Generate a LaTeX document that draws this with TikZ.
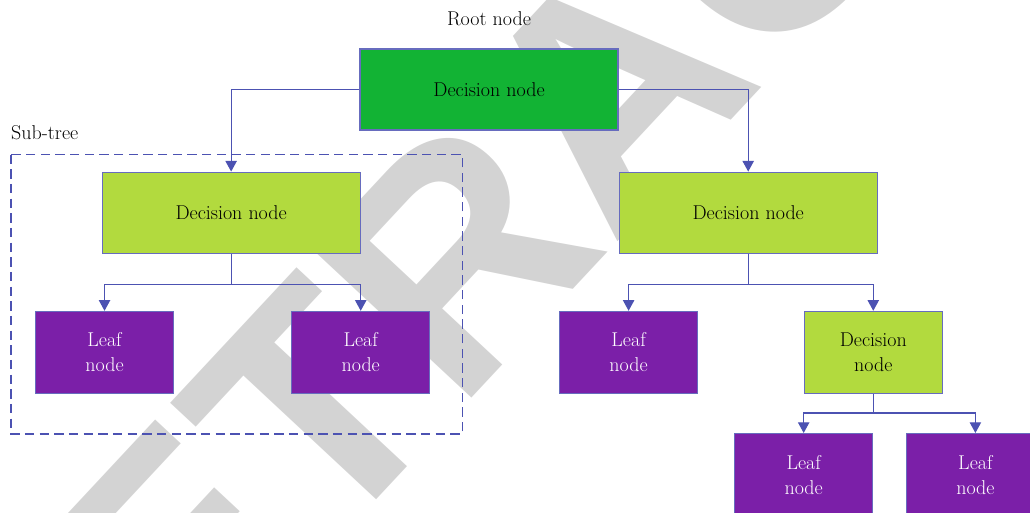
\documentclass[tikz,border=0pt]{standalone}
\usepackage{fontspec}
\newfontfamily\wmfont{Liberation Sans}
\usepackage{tikz}
\usetikzlibrary{positioning,arrows.meta,calc}

\definecolor{rootgreen}{RGB}{18,179,52}
\definecolor{decgreen}{RGB}{178,218,62}
\definecolor{leafpurple}{RGB}{123,31,168}
\definecolor{linkblue}{RGB}{76,82,178}
\definecolor{wmgray}{RGB}{211,211,211}

\begin{document}
\begin{tikzpicture}[
  every node/.style={font=\fontsize{15}{18.75}\selectfont},
  box/.style={draw=linkblue!85, line width=0.9pt, align=center, inner sep=2pt},
  root/.style={box, fill=rootgreen, minimum width=193.5pt, minimum height=60.75pt},
  dec/.style={box, fill=decgreen, minimum width=193.5pt, minimum height=60.75pt},
  smalldec/.style={box, fill=decgreen, minimum width=103.5pt, minimum height=61.5pt},
  leaf/.style={box, fill=leafpurple, text=white, minimum width=103.5pt, minimum height=61.5pt},
  lbl/.style={inner sep=0pt},
  link/.style={draw=linkblue, line width=0.9pt},
  arrow/.style={link, -{Triangle[length=8pt,width=8.5pt]}},
  subtree/.style={draw=linkblue, line width=0.9pt, dash pattern=on 7pt off 4pt}
]
\useasboundingbox (0,0) rectangle (772.5pt,-384.75pt);
\clip (0,0) rectangle (772.5pt,-384.75pt);

% watermark behind everything
\node[text=wmgray, rotate=47, inner sep=0pt, font=\wmfont\bfseries\fontsize{236}{236}\selectfont] (stamp) at (458pt,-67.5pt) {RETRACTED};

\node[root] (root) at (366.75pt,-67.125pt) {Decision node};
\node[lbl, above=17pt of root] (rootlbl) {Root node};

\node[dec, below left=30.75pt and 0pt of root, xshift=1pt] (decL) {Decision node};
\node[dec, below right=30.75pt and 0pt of root] (decR) {Decision node};

\node[leaf, below=42.75pt of decL.south west, xshift=2.25pt] (leafA) {Leaf\\node};
\node[leaf, below=42.75pt of decL.south east] (leafB) {Leaf\\node};
\node[leaf, below=42.75pt of decR.south west, xshift=7.5pt] (leafC) {Leaf\\node};
\node[smalldec, below=42.75pt of decR.south east, xshift=-3.4pt] (decS) {Decision\\node};

\node[leaf, below=29.25pt of decS.south west] (leafD) {Leaf\\node};
\node[leaf, below=29.25pt of decS.south east, xshift=24.4pt] (leafE) {Leaf\\node};

% sub-tree frame
\coordinate (subnw) at ($(leafA.west |- decL.north)+(-18pt,12.75pt)$);
\coordinate (subse) at ($(leafB.south east)+(24pt,-30pt)$);
\draw[subtree] (subnw) rectangle (subse);
\node[lbl, anchor=base west] (sublbl) at ([yshift=11.25pt]subnw) {Sub-tree};

\draw[arrow] (root.west) -| (decL.north);
\draw[arrow] (root.east) -| (decR.north);

\draw[arrow] (decL.south) -- ++(0,-23pt) -| (leafA.north);
\draw[arrow] (decL.south) -- ++(0,-23pt) -| (leafB.north);
\draw[arrow] (decR.south) -- ++(0,-23pt) -| (leafC.north);
\draw[arrow] (decR.south) -- ++(0,-23pt) -| (decS.north);

\draw[arrow] (decS.south) -- ++(0,-14.25pt) -| (leafD.north);
\draw[arrow] (decS.south) -- ++(0,-14.25pt) -| (leafE.north);
\end{tikzpicture}
\end{document}
